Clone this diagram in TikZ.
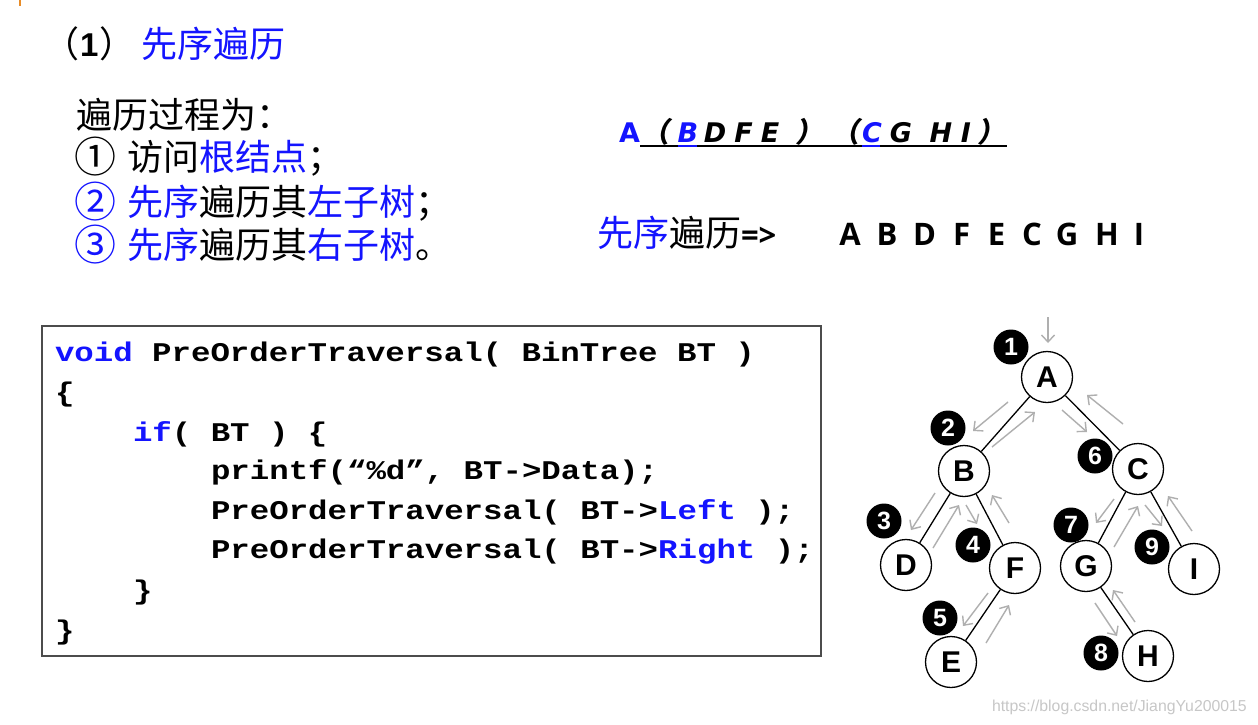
\documentclass[tikz,border=0pt]{standalone}
\usepackage{fontspec}
\setmainfont{Liberation Sans}
\newfontfamily\cjk{Noto Sans CJK SC}
\newfontfamily\cjksl[FakeSlant=0.2]{Noto Sans CJK SC}
\newfontfamily\dvs{DejaVu Sans}
\newfontfamily\osans{Open Sans}
\newfontfamily\codefont[FakeStretch=1.2]{Liberation Mono}
\usetikzlibrary{arrows.meta}
\definecolor{tblue}{RGB}{20,20,255}
\definecolor{arrgray}{RGB}{175,175,175}
\definecolor{tickorange}{RGB}{232,140,40}
\newcommand{\fs}[1]{\fontsize{#1}{#1}\selectfont}
\newcommand{\bl}[1]{{\color{tblue}#1}}
\begin{document}
\begin{tikzpicture}[x=1pt,y=-1pt,
  txt/.style={anchor=base west, inner sep=0pt, outer sep=0pt},
  cjktxt/.style={txt, font=\cjk\fs{36}},
  circnum/.style={txt, font=\cjk\fs{42}},
  codeline/.style={txt, font=\codefont\bfseries\fs{27}},
  seqletter/.style={anchor=base, inner sep=0pt, font=\osans\bfseries\fs{31}},
  topletter/.style={anchor=base, inner sep=0pt, font=\dvs\bfseries\itshape\fs{27}},
  topparen/.style={anchor=base, inner sep=0pt, font=\cjksl\bfseries\fs{28}},
  tnode/.style={circle, draw=black, line width=1.3pt, minimum size=51pt, inner sep=0pt, fill=white, font=\bfseries\fs{30}},
  badge/.style={circle, fill=black, minimum size=35pt, inner sep=0pt, text=white, font=\bfseries\fs{25}},
  treeedge/.style={line width=1.3pt, black},
  trav/.style={arrgray, line width=1.4pt, -{Straight Barb[length=7pt,width=13pt]}},
  codebox/.style={draw=black!70, line width=1.5pt}
]
\useasboundingbox (0,0) rectangle (1258,724);
\fill[white] (0,0) rectangle (1258,724);

% small orange tick
\draw[tickorange, line width=2pt] (19.5,0) -- (19.5,6);

% header
\node[cjktxt] (hp1) at (43,57) {（};
\node[txt, font=\bfseries\fs{33}] (hnum) at (80,56) {1};
\node[cjktxt] (hp2) at (99,57) {）};
\node[cjktxt, text=tblue] (hdr) at (141,57) {先序遍历};

% steps
\node[cjktxt] (s1) at (76,128) {遍历过程为：};
\node[circnum] (s2a) at (74,172) {①};
\node[cjktxt] (s2b) at (127,170) {访问\bl{根结点}；};
\node[circnum, text=tblue] (s3a) at (74,217) {②};
\node[cjktxt] (s3b) at (127,215) {\bl{先序}遍历其\bl{左子树}；};
\node[circnum, text=tblue] (s4a) at (74,260) {③};
\node[cjktxt] (s4b) at (127,258) {\bl{先序}遍历其\bl{右子树}。};

% top right decomposition
\node[anchor=base, inner sep=0pt, font=\dvs\bfseries\fs{27}, text=tblue] (tA) at (629.5,142) {A};
\node[topparen] (p1) at (655,142) {（};
\node[topletter, text=tblue] (tB) at (688,142) {B};
\node[topletter] (tD) at (715,142) {D};
\node[topletter] (tF) at (743.5,142) {F};
\node[topletter] (tE) at (770,142) {E};
\node[topparen] (p2) at (809,142) {）};
\node[topparen] (p3) at (845,142) {（};
\node[topletter, text=tblue] (tC) at (872,142) {C};
\node[topletter] (tG) at (901,142) {G};
\node[topletter] (tH) at (941,142) {H};
\node[topletter] (tI) at (966,142) {I};
\node[topparen] (p4) at (991,142) {）};
\draw[black, line width=1.5pt] (640,146) -- (1007,146);
\draw[tblue, line width=1.5pt] (678,146) -- (697,146);
\draw[tblue, line width=1.5pt] (862,146) -- (880,146);

% preorder result
\node[cjktxt] (res) at (597,246) {\bl{先序}遍历{\osans\bfseries\fs{31}=>}};
\foreach \l/\x in {A/850,B/887,D/924.5,F/961.5,E/996.5,C/1032,G/1067,H/1107,I/1139}
  \node[seqletter] (r\l) at (\x,245) {\l};

% code box
\draw[codebox] (42,326) rectangle (821,656);
\node[codeline] (c1) at (55,361) {\bl{void} PreOrderTraversal( BinTree BT )};
\node[codeline] (c2) at (55,401) {\{};
\node[codeline] (c3) at (133,441) {\bl{if}( BT ) \{};
\node[codeline] (c4) at (211,479) {printf(“\%d”, BT->Data);};
\node[codeline] (c5) at (211,519) {PreOrderTraversal( BT->\bl{Left} );};
\node[codeline] (c6) at (211,558) {PreOrderTraversal( BT->\bl{Right} );};
\node[codeline] (c7) at (133,599) {\}};
\node[codeline] (c8) at (55,639) {\}};

% tree
\node[tnode] (A) at (1047,377) {A};
\node[tnode] (B) at (964,471) {B};
\node[tnode] (C) at (1138,469) {C};
\node[tnode] (D) at (906,565) {D};
\node[tnode] (F) at (1015,568) {F};
\node[tnode] (G) at (1086,566) {G};
\node[tnode] (I) at (1194,569) {I};
\node[tnode] (E) at (951,662) {E};
\node[tnode] (H) at (1148,656) {H};
\draw[treeedge] (A) -- (B);
\draw[treeedge] (A) -- (C);
\draw[treeedge] (B) -- (D);
\draw[treeedge] (B) -- (F);
\draw[treeedge] (F) -- (E);
\draw[treeedge] (C) -- (G);
\draw[treeedge] (C) -- (I);
\draw[treeedge] (G) -- (H);

% badges
\node[badge] (n1) at (1011,347) {1};
\node[badge] (n2) at (948,428) {2};
\node[badge] (n6) at (1095,456) {6};
\node[badge] (n3) at (884,521) {3};
\node[badge] (n4) at (973,545) {4};
\node[badge] (n7) at (1071,525) {7};
\node[badge] (n9) at (1152,547) {9};
\node[badge] (n5) at (940,618) {5};
\node[badge] (n8) at (1101,653) {8};

% traversal arrows
\draw[trav] (1048,317) -- (1048,343);
\draw[trav] (1008,402) -- (973,431);
\draw[trav] (992,447) -- (1035,412);
\draw[trav] (1062,410) -- (1087,432);
\draw[trav] (1123,424) -- (1087,395);
\draw[trav] (935,493) -- (911,530);
\draw[trav] (933,548) -- (959,505);
\draw[trav] (966,505) -- (977,524);
\draw[trav] (1009,523) -- (992,495);
\draw[trav] (988,593) -- (963,626);
\draw[trav] (986,643) -- (1009,605);
\draw[trav] (1114,499) -- (1096,523);
\draw[trav] (1114,547) -- (1138,506);
\draw[trav] (1145,505) -- (1162,526);
\draw[trav] (1192,531) -- (1168,496);
\draw[trav] (1095,603) -- (1117,636);
\draw[trav] (1135,622) -- (1113,590);

% watermark
\node[txt, font=\fs{15.8}, text=black!22] (wm) at (992,711) {https://blog.csdn.net/JiangYu200015};
\end{tikzpicture}
\end{document}
